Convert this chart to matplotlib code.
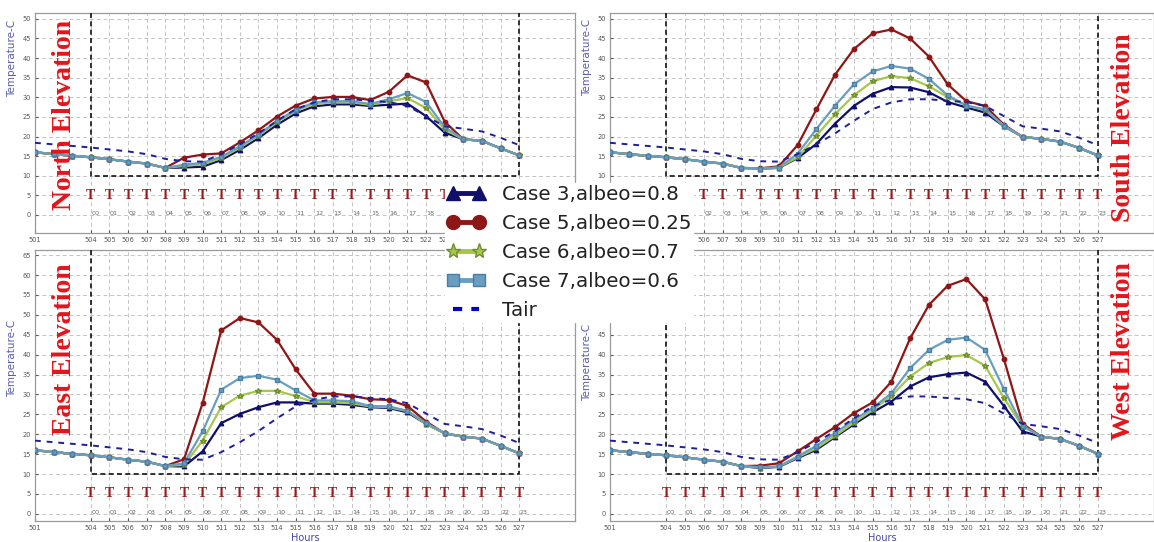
import matplotlib
matplotlib.use("Agg")
import matplotlib.pyplot as plt
from matplotlib.lines import Line2D

# ---------------- data ----------------
hours = list(range(501, 528))
x_ticks = [501] + list(range(504, 528))
x_tick_labels = [str(t) for t in x_ticks]
hour_labels = ["00", "01", "02", "03", "04", "05", "06", "07", "08", "09", "10", "11",
               "12", "13", "14", "15", "16", "17", "18", "19", "20", "21", "22", "23"]

common = [16.0, 15.5, 15.1, 14.7, 14.2, 13.6, 13.1, 12.0]

tair = [18.4, 18.0, 17.6, 17.2, 16.7, 16.2, 15.5, 14.3, 13.7, 13.6, 15.5, 18.0, 20.8,
        24.0, 27.0, 28.7, 29.5, 29.5, 29.1, 28.8, 27.8, 25.2, 22.6, 22.0, 21.3, 19.7, 17.8]

north_case3 = common + [12.1, 12.3, 14.0, 16.6, 19.6, 23.0, 25.9, 27.7, 28.2, 28.2, 27.8, 28.1, 28.4, 25.2, 21.0, 19.3, 18.9, 17.0, 15.2]
north_case5 = common + [14.6, 15.4, 15.7, 18.5, 21.6, 25.1, 27.9, 29.7, 30.1, 30.1, 29.3, 31.4, 35.6, 33.8, 23.8, 19.3, 18.9, 17.0, 15.2]
north_case6 = common + [12.5, 12.9, 14.5, 17.2, 20.2, 23.7, 26.5, 28.3, 28.7, 28.7, 28.1, 29.0, 29.8, 27.3, 21.8, 19.3, 18.9, 17.0, 15.2]
north_case7 = common + [12.8, 13.3, 14.8, 17.5, 20.5, 24.0, 26.8, 28.7, 29.0, 29.0, 28.3, 29.5, 31.1, 28.8, 22.4, 19.3, 18.9, 17.0, 15.2]

south_case3 = common + [11.8, 12.0, 14.5, 18.1, 23.3, 27.8, 30.9, 32.6, 32.5, 31.3, 28.8, 27.4, 26.1, 22.6, 19.9, 19.4, 18.7, 17.1, 15.2]
south_case5 = common + [11.9, 12.4, 17.8, 26.9, 35.8, 42.3, 46.3, 47.3, 45.0, 40.4, 33.3, 29.0, 27.8, 23.0, 19.9, 19.4, 18.7, 17.1, 15.2]
south_case6 = common + [11.8, 12.1, 14.7, 20.2, 25.7, 30.5, 34.1, 35.4, 34.9, 32.8, 30.1, 27.9, 26.8, 22.7, 19.9, 19.4, 18.7, 17.1, 15.2]
south_case7 = common + [11.8, 12.1, 15.6, 21.9, 27.9, 33.3, 36.6, 38.0, 37.3, 34.7, 30.5, 27.9, 26.9, 22.7, 19.9, 19.4, 18.7, 17.1, 15.2]

east_case3 = common + [11.9, 15.7, 22.8, 25.1, 26.8, 28.0, 28.0, 27.7, 27.7, 27.4, 26.8, 26.6, 25.5, 22.6, 20.2, 19.4, 18.9, 17.1, 15.2]
east_case5 = common + [13.7, 27.8, 46.1, 49.2, 48.1, 43.7, 36.3, 30.2, 30.2, 29.7, 28.8, 28.6, 27.1, 23.2, 20.2, 19.4, 18.9, 17.1, 15.2]
east_case6 = common + [12.3, 18.4, 26.8, 29.7, 30.9, 30.9, 29.6, 28.0, 28.0, 27.8, 27.0, 26.8, 25.8, 22.6, 20.2, 19.4, 18.9, 17.1, 15.2]
east_case7 = common + [12.7, 20.7, 31.2, 34.1, 34.7, 33.7, 31.0, 28.5, 28.5, 28.3, 27.1, 27.0, 25.9, 22.8, 20.3, 19.4, 18.9, 17.1, 15.2]

west_case3 = common + [11.5, 11.8, 14.0, 16.1, 19.3, 22.5, 25.5, 28.2, 32.0, 34.3, 35.1, 35.5, 33.2, 27.1, 20.7, 19.4, 18.8, 17.1, 15.1]
west_case5 = common + [12.1, 12.7, 15.7, 18.8, 21.8, 25.3, 28.0, 33.2, 44.1, 52.5, 57.3, 59.0, 53.9, 38.9, 22.6, 19.4, 18.8, 17.1, 15.1]
west_case6 = common + [11.6, 11.9, 14.2, 16.5, 19.6, 22.9, 26.1, 29.6, 34.5, 37.9, 39.4, 39.9, 37.2, 29.1, 21.9, 19.4, 18.8, 17.1, 15.1]
west_case7 = common + [11.7, 11.9, 14.4, 17.1, 20.3, 23.6, 26.6, 30.3, 36.6, 41.2, 43.7, 44.3, 41.2, 31.3, 22.1, 19.4, 18.8, 17.1, 15.1]

labels = ["Case 3,albeo=0.8", "Case 5,albeo=0.25", "Case 6,albeo=0.7", "Case 7,albeo=0.6", "Tair"]

# ---------------- styling ----------------
c3, c5, c6, c7, ct = "#10106a", "#8e1616", "#a6c84a", "#6a9ec0", "#1e1e9e"
c6_edge, c7_edge = "#6f8f2a", "#4a7fa3"
title_red = "#e4141b"
t_red = "#9b1b1b"

box_start, box_end, box_low = 504, 527, 10
t_level, lab_level = 5, 0.4

fig = plt.figure(figsize=(11.54, 5.42), dpi=100)
W, H = 1154.0, 542.0


def make_ax(left, top, right, bottom):
    return fig.add_axes([left / W, 1 - bottom / H, (right - left) / W, (bottom - top) / H])


panels = [
    dict(rect=(35, 13, 575, 233), ylim=(-4.6, 51.5), yticks=range(0, 51, 5),
         s=(north_case3, north_case5, north_case6, north_case7), title="North Elevation",
         tx=502.6, ty=25.5, xlabel=False, ylab_y=0.795),
    dict(rect=(610, 13, 1154, 233), ylim=(-4.6, 51.5), yticks=range(0, 51, 5),
         s=(south_case3, south_case5, south_case6, south_case7), title="South Elevation",
         tx=528.35, ty=22.3, xlabel=False, ylab_y=0.8),
    dict(rect=(35, 250, 575, 521), ylim=(-1.8, 66.3), yticks=range(0, 66, 5),
         s=(east_case3, east_case5, east_case6, east_case7), title="East Elevation",
         tx=502.6, ty=41.5, xlabel=True, ylab_y=0.6),
    dict(rect=(610, 250, 1154, 521), ylim=(-1.8, 66.3), yticks=range(0, 66, 5),
         s=(west_case3, west_case5, west_case6, west_case7), title="West Elevation",
         tx=528.35, ty=40.8, xlabel=True, ylab_y=0.585),
]

for p in panels:
    ax = make_ax(*p["rect"])
    ax.set_xlim(501, 530)
    ax.set_ylim(*p["ylim"])
    ax.set_xticks(x_ticks)
    ax.set_xticklabels(x_tick_labels)
    ax.set_yticks(list(p["yticks"]))
    ax.tick_params(labelsize=4.8, colors="#555555", length=2, direction="in", pad=3)
    ax.grid(True, color="#c4c4c4", linestyle=(0, (4, 3)), linewidth=0.7)
    for sp in ax.spines.values():
        sp.set_color("#9a9a9a")
        sp.set_linewidth(0.9)

    s3, s5, s6, s7 = p["s"]
    ax.plot(hours, s3, color=c3, lw=1.6, marker="^", ms=3.2, mec=c3, mfc=c3, zorder=4)
    ax.plot(hours, s5, color=c5, lw=1.6, marker="o", ms=3.2, mec=c5, mfc=c5, zorder=4)
    ax.plot(hours, s6, color=c6, lw=1.6, marker="*", ms=4.0, mec=c6_edge, mfc=c6, zorder=4)
    ax.plot(hours, s7, color=c7, lw=1.6, marker="s", ms=3.0, mec=c7_edge, mfc=c7, zorder=4)
    ax.plot(hours, tair, color=ct, lw=1.4, linestyle=(0, (3, 3)), zorder=5)

    ytop = p["ylim"][1]
    ax.plot([box_start, box_start, box_end, box_end], [ytop, box_low, box_low, ytop],
            color="#111111", lw=1.2, linestyle=(0, (3, 2)), zorder=3)

    for h, lab in zip(hours[3:], hour_labels):
        ax.text(h, t_level, "T", color=t_red, fontsize=10, fontweight="bold",
                family=["Liberation Serif", "DejaVu Serif"], ha="center", va="center", zorder=4)
        ax.text(h + 0.25, lab_level, lab, color="#666666", fontsize=4.6,
                ha="center", va="center", zorder=4)

    ax.text(p["tx"], p["ty"], p["title"], rotation=90, color=title_red, fontsize=20,
            fontweight="bold", family=["Liberation Serif", "DejaVu Serif"],
            ha="center", va="center", zorder=6)

    ax.set_ylabel("Temperature-C", fontsize=7.5, color="#5c5cb0")
    ax.yaxis.set_label_coords(-0.033, p["ylab_y"])
    if p["xlabel"]:
        ax.set_xlabel("Hours", fontsize=7, color="#4a4aa0", labelpad=1)

handles = [
    Line2D([], [], color=c3, lw=3.5, marker="^", ms=10, mfc=c3, mec=c3),
    Line2D([], [], color=c5, lw=3.5, marker="o", ms=10, mfc=c5, mec=c5),
    Line2D([], [], color=c6, lw=3.5, marker="*", ms=11, mfc=c6, mec=c6_edge),
    Line2D([], [], color=c7, lw=3.5, marker="s", ms=9, mfc=c7, mec=c7_edge),
    Line2D([], [], color="#0000cc", lw=3, linestyle=(0, (2.2, 2.2))),
]
leg = fig.legend(handles, labels, loc="upper left", bbox_to_anchor=(445 / W, 1 - 183 / H),
                 fontsize=14.3, frameon=True, facecolor="white", edgecolor="white", framealpha=1,
                 labelspacing=0.5, handlelength=1.9, handletextpad=0.85, borderpad=0.1,
                 borderaxespad=0, numpoints=2, fancybox=False)
for t in leg.get_texts():
    t.set_color("#222222")

fig.savefig("out.png", dpi=100)
